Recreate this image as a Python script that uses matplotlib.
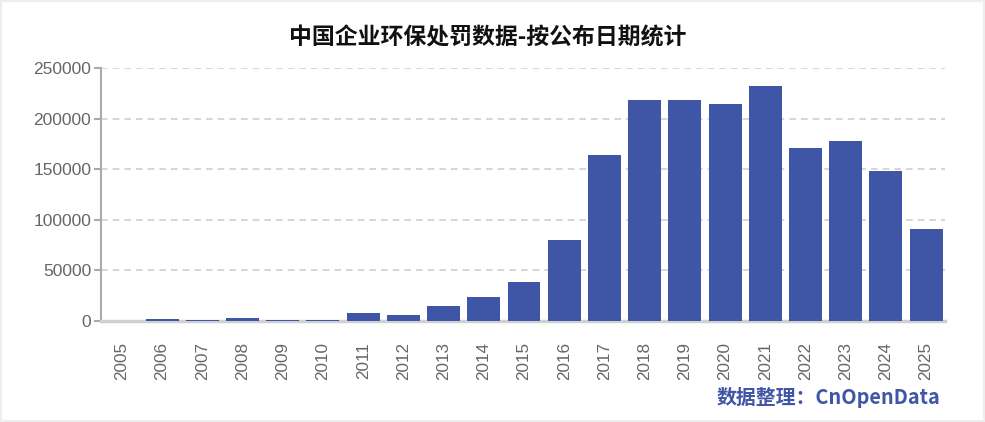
import matplotlib
matplotlib.use('Agg')
import matplotlib.pyplot as plt
from matplotlib.patches import Rectangle

plt.rcParams['font.family'] = ['Noto Sans CJK SC', 'DejaVu Sans']

years = [str(y) for y in range(2005, 2026)]
counts = [0, 1500, 1200, 2500, 1200, 1200, 7500, 5500, 14500, 23500, 38500,
          80500, 164500, 218000, 218500, 214000, 232500, 171000, 178000, 148500, 90500]
yticks = [0, 50000, 100000, 150000, 200000, 250000]

bar_color = '#3f55a5'
tick_color = '#666666'

fig = plt.figure(figsize=(9.85, 4.22), dpi=100)
fig.patches.append(Rectangle((0, 0), 1, 1, transform=fig.transFigure,
                             facecolor='none', edgecolor='#eeeeee', lw=3, zorder=0))

ax = fig.add_axes([101/985, 1 - 321/422, (945 - 101)/985, (321 - 68)/422])
x = list(range(len(years)))
ax.bar(x, counts, width=0.82, color=bar_color, zorder=3)

ax.set_xlim(-0.52, 20.47)
ax.set_ylim(0, 250000)
ax.set_yticks(yticks)
ax.set_yticklabels([str(v) for v in yticks], fontsize=12.5, color=tick_color,
                   family='Liberation Sans')
ax.set_xticks(x)
ax.set_xticklabels(years, rotation=90, fontsize=12.3, color=tick_color,
                   family='Liberation Sans')
ax.tick_params(axis='x', length=0, pad=15)
ax.tick_params(axis='y', length=5, color='#aaaaaa', width=1.5, pad=2)

ax.grid(axis='y', color='#d0d0d0', linestyle=(0, (4, 3)), lw=1.2, zorder=0)
for s in ['top', 'right']:
    ax.spines[s].set_visible(False)
ax.spines['left'].set_color('#aaaaaa')
ax.spines['left'].set_linewidth(1.5)
ax.spines['bottom'].set_color('#d0d0d0')
ax.spines['bottom'].set_linewidth(2.5)

fig.text(0.495, 1 - 38/422, '中国企业环保处罚数据-按公布日期统计', ha='center', va='center',
         fontsize=16.5, fontweight='bold', color='#111111')
fig.text(940/985, 1 - 398/422, '数据整理：CnOpenData', ha='right', va='center',
         fontsize=14.3, fontweight='bold', color='#3f55a5')

fig.savefig('out.png', dpi=100)
